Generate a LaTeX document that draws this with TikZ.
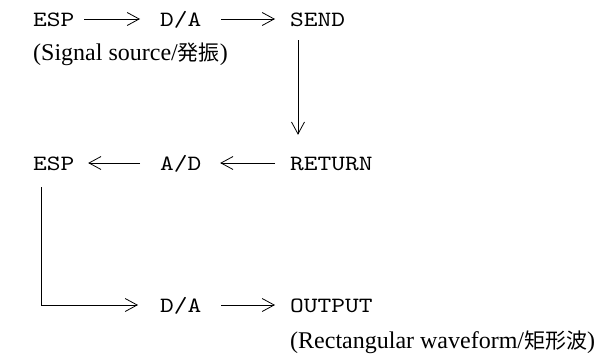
\documentclass[tikz,border=0pt]{standalone}
\usepackage{fontspec}
\setmainfont{Liberation Serif}
\setmonofont{lmmono10-regular.otf}[FakeStretch=1.2]
\newfontfamily\cjk{Noto Sans CJK JP}
\usepackage{tikz}
\usetikzlibrary{positioning}
\usetikzlibrary{arrows.meta}

\begin{document}
\begin{tikzpicture}[x=1pt,y=-1pt,
  mono/.style={font=\ttfamily\fontsize{21.8}{22}\selectfont, inner sep=0pt, text height=14pt, text depth=0pt, anchor=base west},
  note/.style={font=\fontsize{24}{25}\selectfont, inner sep=0pt, anchor=base west},
  flow/.style={-{Straight Barb[length=12pt,width=13pt]}, line width=0.8pt}]
  \useasboundingbox (0,0) rectangle (608,356);

  % send path
  \node[mono] (esp1) at (33,26) {ESP};
  \node[mono] (da1) at (160,26) {D/A};
  \node[mono] (send) at (290,26) {SEND};
  \node[note] (src) at (33,60) {(Signal source/{\cjk\fontsize{21}{21}\selectfont 発振})};

  % return path
  \node[mono] (esp2) at (33,170) {ESP};
  \node[mono] (ad) at (160,170) {A/D};
  \node[mono] (ret) at (290,170) {RETURN};

  % output path
  \node[mono] (da2) at (160,312) {D/A};
  \node[mono] (out) at (290,312) {OUTPUT};
  \node[note] (wave) at (290,348) {(Rectangular waveform/{\cjk\fontsize{21}{21}\selectfont 矩形波})};

  \draw[flow, shorten <=9.6pt, shorten >=20pt] (esp1.east) -- (da1.west);
  \draw[flow, shorten <=19.6pt, shorten >=15pt] (da1.east) -- (send.west);
  \draw[flow, shorten <=14pt, shorten >=21pt] ([xshift=8pt]send.south west) -- ([xshift=8pt]send.south west |- ret.north);
  \draw[flow, shorten <=15pt, shorten >=18.6pt] (ret.west) -- (ad.east);
  \draw[flow, shorten <=20pt, shorten >=13.6pt] (ad.west) -- (esp2.east);
  \draw[flow, shorten <=17pt, shorten >=22pt] ([xshift=8pt]esp2.south west) |- (da2.west);
  \draw[flow, shorten <=19.6pt, shorten >=15pt] (da2.east) -- (out.west);
\end{tikzpicture}
\end{document}
